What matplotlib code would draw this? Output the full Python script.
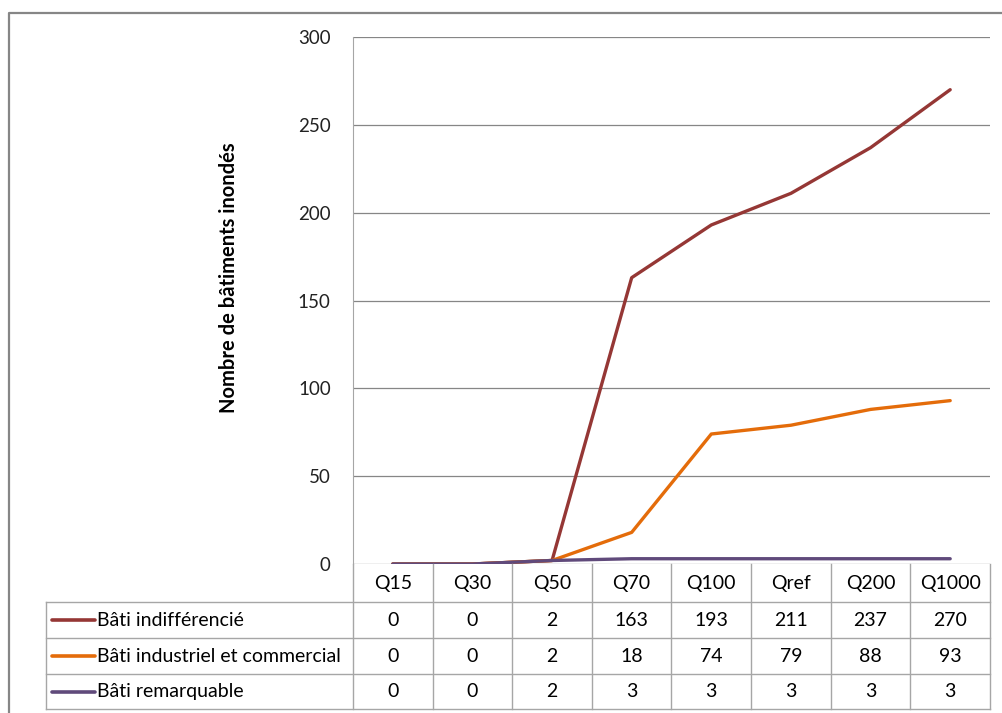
import matplotlib
matplotlib.use("Agg")
import matplotlib.pyplot as plt
from matplotlib.lines import Line2D

plt.rcParams['font.family'] = ['Lato', 'DejaVu Sans']

periods = ["Q15", "Q30", "Q50", "Q70", "Q100", "Qref", "Q200", "Q1000"]
bati_indiff = [0, 0, 2, 163, 193, 211, 237, 270]
bati_indus = [0, 0, 2, 18, 74, 79, 88, 93]
bati_remarq = [0, 0, 2, 3, 3, 3, 3, 3]
series_names = ["Bâti indifférencié", "Bâti industriel et commercial", "Bâti remarquable"]
series_colors = ["#953735", "#E46C0A", "#604A7B"]
series = [bati_indiff, bati_indus, bati_remarq]

W, H = 1003, 713
fig = plt.figure(figsize=(W / 100, H / 100), dpi=100)


def fx(px):
    return px / W


def fy(py):
    return 1 - py / H


def hline(y, x0, x1, **kw):
    fig.add_artist(Line2D([fx(x0), fx(x1)], [fy(y), fy(y)], **kw))


def vline(x, y0, y1, **kw):
    fig.add_artist(Line2D([fx(x), fx(x)], [fy(y0), fy(y1)], **kw))


# axes placement in pixels
left, right, top, bottom = 353, 990, 37, 564
ax = fig.add_axes([fx(left), fy(bottom), (right - left) / W, (bottom - top) / H])

x = list(range(len(periods)))
for vals, col, name in zip(series, series_colors, series_names):
    ax.plot(x, vals, color=col, lw=2.4, label=name, solid_capstyle='round')

ax.set_xlim(-0.5, len(periods) - 0.5)
ax.set_ylim(0, 300)
ax.set_yticks(range(0, 301, 50))
ax.set_xticks([])
ax.yaxis.grid(True, color="#868686", lw=0.9)
ax.set_axisbelow(True)
for s in ["top", "right", "bottom"]:
    ax.spines[s].set_visible(False)
ax.spines["left"].set_color("#a6a6a6")
ax.tick_params(axis='y', length=0, pad=16, labelsize=13.5, colors="#222222")
ax.set_ylabel("Nombre de bâtiments inondés", fontsize=14.5, fontweight='bold')
ax.yaxis.set_label_coords((239 - left) / (right - left), (bottom - 278) / (bottom - top))

# data table under the plot
edge = "#a6a6a6"
tab_left = 46
row_lines = [564, 602, 638, 674, 709]
colw = (right - left) / len(periods)
col_edges = [left + i * colw for i in range(len(periods) + 1)]
for cx in col_edges:
    vline(cx, row_lines[0], row_lines[-1], color=edge, lw=1.0)
vline(tab_left, row_lines[1], row_lines[-1], color=edge, lw=1.0)
for ry in row_lines[1:]:
    hline(ry, tab_left, right, color=edge, lw=1.0)

fs = 14
hy = (row_lines[0] + row_lines[1]) / 2
for j, p in enumerate(periods):
    fig.text(fx(left + (j + 0.5) * colw), fy(hy), p, ha='center', va='center', fontsize=fs)
for i, (vals, name, col) in enumerate(zip(series, series_names, series_colors)):
    ry = (row_lines[i + 1] + row_lines[i + 2]) / 2
    hline(ry, 52, 95, color=col, lw=2.6, solid_capstyle='round')
    fig.text(fx(97), fy(ry), name, ha='left', va='center', fontsize=fs)
    for j, v in enumerate(vals):
        fig.text(fx(left + (j + 0.5) * colw), fy(ry), str(v), ha='center', va='center', fontsize=fs)

# chart frame
fig.add_artist(Line2D([fx(9), fx(9), 1.0], [0, fy(13), fy(13)], color="#868686", lw=1.6))

fig.savefig("out.png", dpi=100)
